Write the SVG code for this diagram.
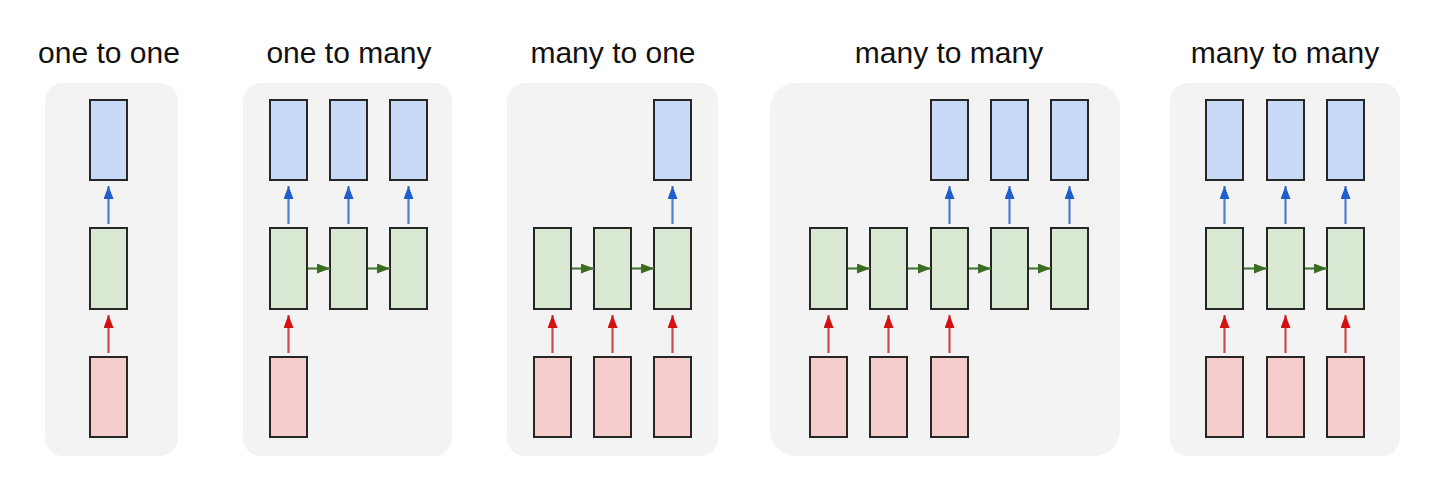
<svg xmlns="http://www.w3.org/2000/svg" width="1450" height="477" viewBox="0 0 1450 477">
<defs>
<style>
.title{font-family:"Liberation Sans",Arial,sans-serif;font-size:30px;fill:#111;text-anchor:middle}
.panel{fill:#f3f3f3}
.out{fill:#c9daf8;stroke:#262626;stroke-width:2}
.hid{fill:#d9e8d3;stroke:#262626;stroke-width:2}
.inp{fill:#f6cdcd;stroke:#262626;stroke-width:2}
.ab{stroke:#4a7fcf;stroke-width:2.2;fill:none;marker-end:url(#mb)}
.ar{stroke:#c94a4a;stroke-width:2.2;fill:none;marker-end:url(#mr)}
.ag{stroke:#4a7a3a;stroke-width:2.2;fill:none;marker-end:url(#mg)}
</style>
<marker id="mb" viewBox="0 0 13 10" refX="13" refY="5" markerWidth="13" markerHeight="10" markerUnits="userSpaceOnUse" orient="auto"><path d="M0,0L13,5L0,10z" fill="#1f5fcc"/></marker>
<marker id="mr" viewBox="0 0 13 10" refX="13" refY="5" markerWidth="13" markerHeight="10" markerUnits="userSpaceOnUse" orient="auto"><path d="M0,0L13,5L0,10z" fill="#d41010"/></marker>
<marker id="mg" viewBox="0 0 13 10" refX="13" refY="5" markerWidth="13" markerHeight="10" markerUnits="userSpaceOnUse" orient="auto"><path d="M0,0L13,5L0,10z" fill="#3b6e22"/></marker>
</defs>
<rect width="1450" height="477" fill="#ffffff"/>
<g id="panels">
<rect class="panel" x="45" y="83" width="133" height="373" rx="18"/>
<rect class="panel" x="243" y="83" width="209" height="373" rx="18"/>
<rect class="panel" x="507" y="83" width="211" height="373" rx="18"/>
<rect class="panel" x="770" y="83" width="350" height="373" rx="26"/>
<rect class="panel" x="1170" y="83" width="230" height="373" rx="18"/>
</g>
<g id="titles">
<text class="title" x="109" y="63">one to one</text>
<text class="title" x="349" y="63">one to many</text>
<text class="title" x="613" y="63">many to one</text>
<text class="title" x="949" y="63">many to many</text>
<text class="title" x="1285" y="63">many to many</text>
</g>
<g id="one-to-one">
<rect class="out" x="90" y="100" width="37" height="80"/>
<rect class="hid" x="90" y="228" width="37" height="81"/>
<rect class="inp" x="90" y="357" width="37" height="80"/>
</g>
<g id="one-to-many">
<rect class="out" x="270" y="100" width="37" height="80"/>
<rect class="out" x="330" y="100" width="37" height="80"/>
<rect class="out" x="390" y="100" width="37" height="80"/>
<rect class="hid" x="270" y="228" width="37" height="81"/>
<rect class="hid" x="330" y="228" width="37" height="81"/>
<rect class="hid" x="390" y="228" width="37" height="81"/>
<rect class="inp" x="270" y="357" width="37" height="80"/>
</g>
<g id="many-to-one">
<rect class="out" x="654" y="100" width="37" height="80"/>
<rect class="hid" x="534" y="228" width="37" height="81"/>
<rect class="hid" x="594" y="228" width="37" height="81"/>
<rect class="hid" x="654" y="228" width="37" height="81"/>
<rect class="inp" x="534" y="357" width="37" height="80"/>
<rect class="inp" x="594" y="357" width="37" height="80"/>
<rect class="inp" x="654" y="357" width="37" height="80"/>
</g>
<g id="many-to-many-1">
<rect class="out" x="931" y="100" width="37" height="80"/>
<rect class="out" x="991" y="100" width="37" height="80"/>
<rect class="out" x="1051" y="100" width="37" height="80"/>
<rect class="hid" x="810" y="228" width="37" height="81"/>
<rect class="hid" x="870" y="228" width="37" height="81"/>
<rect class="hid" x="931" y="228" width="37" height="81"/>
<rect class="hid" x="991" y="228" width="37" height="81"/>
<rect class="hid" x="1051" y="228" width="37" height="81"/>
<rect class="inp" x="810" y="357" width="37" height="80"/>
<rect class="inp" x="870" y="357" width="37" height="80"/>
<rect class="inp" x="931" y="357" width="37" height="80"/>
</g>
<g id="many-to-many-2">
<rect class="out" x="1206" y="100" width="37" height="80"/>
<rect class="out" x="1267" y="100" width="37" height="80"/>
<rect class="out" x="1327" y="100" width="37" height="80"/>
<rect class="hid" x="1206" y="228" width="37" height="81"/>
<rect class="hid" x="1267" y="228" width="37" height="81"/>
<rect class="hid" x="1327" y="228" width="37" height="81"/>
<rect class="inp" x="1206" y="357" width="37" height="80"/>
<rect class="inp" x="1267" y="357" width="37" height="80"/>
<rect class="inp" x="1327" y="357" width="37" height="80"/>
</g>
<g id="connectors">
<path class="ab" d="M108.5,224V186"/>
<path class="ar" d="M108.5,353V315"/>
<path class="ab" d="M288.5,224V186"/><path class="ab" d="M348.5,224V186"/><path class="ab" d="M408.5,224V186"/>
<path class="ar" d="M288.5,353V315"/>
<path class="ag" d="M308,268.5H330"/><path class="ag" d="M368,268.5H390"/>
<path class="ab" d="M672.5,224V186"/>
<path class="ag" d="M572,268.5H594"/><path class="ag" d="M632,268.5H654"/>
<path class="ar" d="M552.5,353V315"/><path class="ar" d="M612.5,353V315"/><path class="ar" d="M672.5,353V315"/>
<path class="ab" d="M949.5,224V186"/><path class="ab" d="M1009.5,224V186"/><path class="ab" d="M1069.5,224V186"/>
<path class="ag" d="M848,268.5H870"/><path class="ag" d="M908,268.5H931"/><path class="ag" d="M969,268.5H991"/><path class="ag" d="M1029,268.5H1051"/>
<path class="ar" d="M828.5,353V315"/><path class="ar" d="M888.5,353V315"/><path class="ar" d="M949.5,353V315"/>
<path class="ab" d="M1224.5,224V186"/><path class="ab" d="M1285.5,224V186"/><path class="ab" d="M1345.5,224V186"/>
<path class="ag" d="M1244,268.5H1267"/><path class="ag" d="M1305,268.5H1327"/>
<path class="ar" d="M1224.5,353V315"/><path class="ar" d="M1285.5,353V315"/><path class="ar" d="M1345.5,353V315"/>
</g>
</svg>
